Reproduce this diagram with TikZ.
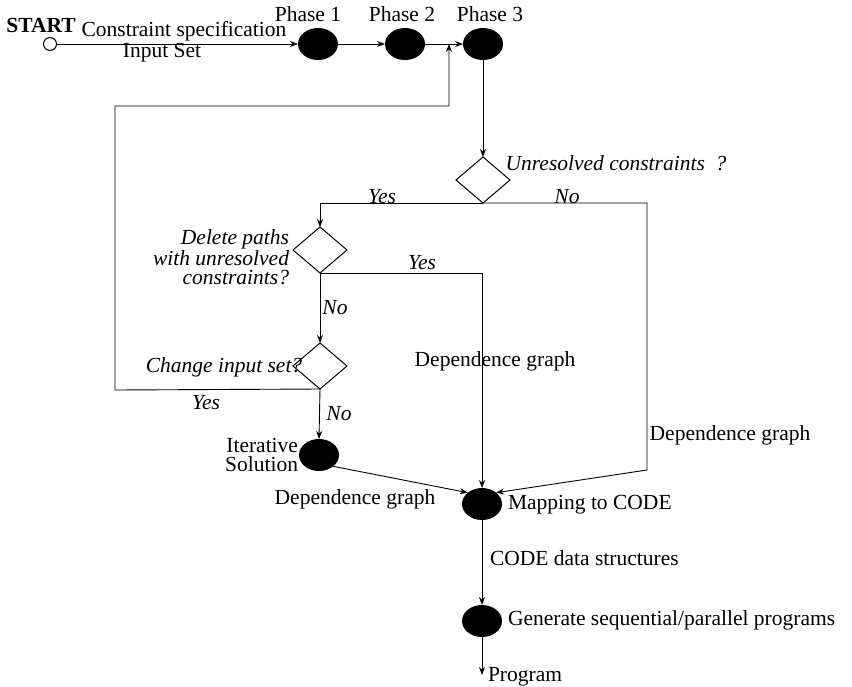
\documentclass[tikz,border=0pt]{standalone}
\usepackage{fontspec}
\setmainfont{Liberation Serif}
\usetikzlibrary{arrows.meta,shapes.geometric}
\begin{document}
\begin{tikzpicture}[x=1pt,y=-1pt,
  every node/.style={font=\fontsize{21.5}{19}\selectfont, inner sep=0pt, outer sep=0pt},
  ilbl/.style={font=\fontsize{21.5}{19}\selectfont\itshape},
  proc/.style={ellipse, fill=black, minimum width=40pt, minimum height=32pt},
  decision/.style={diamond, draw, line width=1pt, minimum width=54pt, minimum height=46pt},
  startc/.style={circle, draw, line width=1pt, minimum size=13pt},
  flow/.style={line width=0.9pt},
  arr/.style={flow, -{Stealth[length=8pt,width=6pt]}}]
\useasboundingbox (0,0) rectangle (852,686);

% start and the three phases
\node[startc] (start) at (50,44) {};
\node (startlbl) at (41,25) {\textbf{START}};
\node (cs) at (184,31) {Constraint specification};
\node (is) at (162,53) {Input Set};
\node[proc] (p1) at (318,44) {};
\node[proc] (p2) at (405,44) {};
\node[proc] (p3) at (483,44) {};
\node (p1l) at (308,14) {Phase 1};
\node (p2l) at (402,14) {Phase 2};
\node (p3l) at (490,14) {Phase 3};
\coordinate (j) at (449,44);

% decisions
\node[decision] (d1) at (483,180) {};
\node[decision] (d2) at (320,250) {};
\node[decision] (d3) at (320,366) {};
\node[ilbl] (d1l) at (616,163) {Unresolved constraints\ \ ?};
\node[ilbl, anchor=east, align=right] (d2l) at (289,257) {Delete paths\\with unresolved\\constraints?};
\node[ilbl] (d3l) at (224,367) {Change input set?};

% processing steps
\node[proc] (iter) at (319,455) {};
\node[anchor=east, align=right] (iterl) at (298,455) {Iterative\\Solution};
\node[proc] (map) at (482,504) {};
\node[anchor=west] (mapl) at (508,505) {Mapping to CODE};
\node[proc] (gen) at (482,621) {};
\node[anchor=west] (genl) at (508,620) {Generate sequential/parallel programs};
\coordinate (out) at (482,675);
\node[anchor=west] (outl) at (488,677) {Program};

% connectors
\draw[arr] (start) -- (p1);
\draw[arr] (p1) -- (p2);
\draw[arr] (p2) -- (p3);
\draw[arr] (p3) -- (d1);
\draw[arr] (d1.south) -| (d2.north);
\draw[arr] (d1.south) -- (647,203) -- (647,470) -- (map.north east);
\draw[arr] (d2.south) -| (map.north);
\draw[arr] (d2.south) -- (d3.north);
\draw[arr] (d3.south) -- (iter.north);
\draw[arr] (d3.south) -- (115,390) |- (449,106) -- (j);
\draw[arr] (iter.south east) -- (map.north west);
\draw[arr] (map) -- (gen);
\draw[arr] (gen) -- (out);

% branch labels
\node[ilbl] (y1) at (382,197) {Yes};
\node[ilbl] (n1) at (567,197) {No};
\node[ilbl] (y2) at (422,263) {Yes};
\node[ilbl] (n2) at (335,308) {No};
\node[ilbl] (y3) at (206,403) {Yes};
\node[ilbl] (n3) at (339,414) {No};
\node (dg1) at (495,361) {Dependence graph};
\node (dg2) at (730,435) {Dependence graph};
\node (dg3) at (355,499) {Dependence graph};
\node[anchor=west] (cds) at (490,558) {CODE data structures};
\end{tikzpicture}
\end{document}
